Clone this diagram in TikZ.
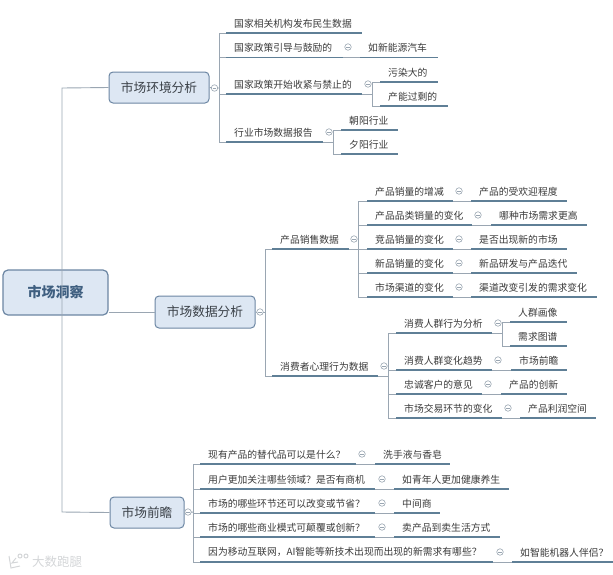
\documentclass[tikz,border=0pt]{standalone}
\usepackage{fontspec}
\setmainfont{Noto Sans CJK SC}
\definecolor{ulc}{HTML}{5F7F96}
\definecolor{conc}{HTML}{9AA6B2}
\definecolor{boxf}{HTML}{DDE7F3}
\definecolor{boxd}{HTML}{6C86A3}
\definecolor{txtc}{HTML}{3A3A3A}
\definecolor{rootc}{HTML}{3F5F80}
\definecolor{wmc}{HTML}{D4D6D8}
\tikzset{
  tx/.style={font=\fontsize{9.8}{11}\selectfont,text=txtc,inner sep=0pt,anchor=west},
  uline/.style={draw=ulc,line width=1.5pt},
  conn/.style={draw=conc,line width=0.9pt},
  mainbox/.style={draw=boxd,line width=1pt,fill=boxf,rounded corners=4pt,inner sep=0pt,text=txtc!80!rootc,font=\fontsize{12.7}{14}\selectfont},
  rootbox/.style={draw=boxd,line width=1.2pt,fill=boxf,rounded corners=5pt,inner sep=0pt,text=rootc,font=\bfseries\fontsize{14}{16}\selectfont},
  togg/.style={circle,draw=conc,line width=0.6pt,fill=white,minimum size=6.5pt,inner sep=0pt,
    path picture={\draw[conc,line width=0.6pt] ([xshift=1.4pt]path picture bounding box.west)--([xshift=-1.4pt]path picture bounding box.east);}},
  markt/.style={font=\fontsize{12.5}{13}\selectfont,text=wmc,inner sep=0pt,anchor=west},
  markl/.style={draw=wmc,line width=1pt}
}
% \tp{name}{x0}{x1}{yline}{text}
\newcommand{\tp}[5]{%
  \node[tx] (#1) at (#2+8,#4-9.7) {#5};
  \coordinate (#1L) at (#2,#4);
  \coordinate (#1R) at (#3,#4);
  \draw[uline] (#1L) -- (#1R);}
\newcommand{\tog}[3]{\node[togg] (#1) at (#2,#3) {};}
\begin{document}
\begin{tikzpicture}[x=1pt,y=-1pt]
\useasboundingbox (0,0) rectangle (613,574);
% boxes
\node[rootbox,minimum width=105pt,minimum height=45pt] (root) at (55.5,292.5) {市场洞察};
\node[mainbox,minimum width=100pt,minimum height=31pt] (A) at (159,87.5) {市场环境分析};
\node[mainbox,minimum width=100pt,minimum height=32pt] (B) at (205,312) {市场数据分析};
\node[mainbox,minimum width=74pt,minimum height=31pt] (C) at (147,512.5) {市场前瞻};
\coordinate (trunkT) at (62,88);
\coordinate (trunkB) at (62,512);
% root connectors
\draw[conn] (A.west) -- (trunkT) -- (trunkB) -- (C.west);
\draw[conn] (root.east |- B.west) -- (B.west);
% --- A branch
\tp{a1}{226}{362}{33}{国家相关机构发布民生数据}
\tp{a2}{226}{343}{57.5}{国家政策引导与鼓励的}
\tp{a2c}{360}{438}{57.5}{如新能源汽车}
\tp{a3}{226}{362}{94}{国家政策开始收紧与禁止的}
\tp{a3c1}{380}{438}{82}{污染大的}
\tp{a3c2}{380}{448}{106}{产能过剩的}
\tp{a4}{226}{323}{142}{行业市场数据报告}
\tp{a4c1}{341}{398}{130}{朝阳行业}
\tp{a4c2}{341}{398}{154}{夕阳行业}
\coordinate (aT) at (219,88);
\draw[conn] (a1L) -- (a1L -| aT) -- (a4L -| aT) -- (a4L);
\draw[conn] (A.east) -- (aT);
\draw[conn] (a2L) -- (a2L -| aT);
\draw[conn] (a3L) -- (a3L -| aT);
\draw[conn] (a2R) -- (a2cL);
\coordinate (a3T) at (372,94);
\draw[conn] (a3R) -- (a3T);
\draw[conn] (a3c1L) -- (a3c1L -| a3T) -- (a3c2L -| a3T) -- (a3c2L);
\coordinate (a4T) at (333,142);
\draw[conn] (a4R) -- (a4T);
\draw[conn] (a4c1L) -- (a4c1L -| a4T) -- (a4c2L -| a4T) -- (a4c2L);
\tog{ta}{214.5}{88}
\tog{ta2}{348}{47}
\tog{ta3}{368}{84}
\tog{ta4}{329}{132}
% --- B branch
\tp{b1}{272}{349}{249}{产品销售数据}
\tp{b2}{272}{378}{376}{消费者心理行为数据}
\coordinate (bT) at (265,312);
\draw[conn] (B.east) -- (bT);
\draw[conn] (b1L) -- (b1L -| bT) -- (b2L -| bT) -- (b2L);
\tog{tb}{260}{312}
\tog{tb1}{354}{239}
\tog{tb2}{384}{366}
% sales rows
\tp{s1}{367}{453}{201}{产品销量的增减}
\tp{s1c}{471}{567}{201}{产品的受欢迎程度}
\tp{s2}{367}{472}{225}{产品品类销量的变化}
\tp{s2c}{491}{587}{225}{哪种市场需求更高}
\tp{s3}{367}{453}{249}{竞品销量的变化}
\tp{s3c}{471}{567}{249}{是否出现新的市场}
\tp{s4}{367}{453}{273}{新品销量的变化}
\tp{s4c}{471}{577}{273}{新品研发与产品迭代}
\tp{s5}{367}{453}{297}{市场渠道的变化}
\tp{s5c}{471}{597}{297}{渠道改变引发的需求变化}
\coordinate (sT) at (358,249);
\draw[conn] (b1R) -- (s3L);
\draw[conn] (s1L) -- (s1L -| sT) -- (s5L -| sT) -- (s5L);
\draw[conn] (s2L) -- (s2L -| sT);
\draw[conn] (s4L) -- (s4L -| sT);
\foreach \n in {1,2,3,4,5}{\draw[conn] (s\n R) -- (s\n cL);}
\tog{ts1}{459}{191}
\tog{ts2}{478}{215}
\tog{ts3}{459}{239}
\tog{ts4}{459}{263}
\tog{ts5}{459}{287}
% consumer rows
\tp{c1}{396}{492}{333}{消费人群行为分析}
\tp{c1a}{510}{567}{322}{人群画像}
\tp{c1b}{510}{567}{346}{需求图谱}
\tp{c2}{396}{492}{370}{消费人群变化趋势}
\tp{c2c}{511}{567}{370}{市场前瞻}
\tp{c3}{396}{482}{394}{忠诚客户的意见}
\tp{c3c}{501}{567}{394}{产品的创新}
\tp{c4}{396}{502}{418}{市场交易环节的变化}
\tp{c4c}{520}{596}{418}{产品利润空间}
\coordinate (cT) at (388,376);
\draw[conn] (b2R) -- (cT);
\draw[conn] (c1L) -- (c1L -| cT) -- (c4L -| cT) -- (c4L);
\draw[conn] (c2L) -- (c2L -| cT);
\draw[conn] (c3L) -- (c3L -| cT);
\coordinate (c1T) at (502,333);
\draw[conn] (c1R) -- (c1T);
\draw[conn] (c1aL) -- (c1aL -| c1T) -- (c1bL -| c1T) -- (c1bL);
\draw[conn] (c2R) -- (c2cL);
\draw[conn] (c3R) -- (c3cL);
\draw[conn] (c4R) -- (c4cL);
\tog{tc1}{498}{323}
\tog{tc2}{498}{360}
\tog{tc3}{488}{384}
\tog{tc4}{508}{408}
% --- C branch
\tp{f1}{200}{356}{464}{现有产品的替代品可以是什么？}
\tp{f1c}{375}{450}{464}{洗手液与香皂}
\tp{f2}{200}{375}{489}{用户更加关注哪些领域？是否有商机}
\tp{f2c}{394}{509}{489}{如青年人更加健康养生}
\tp{f3}{200}{375}{513}{市场的哪些环节还可以改变或节省？}
\tp{f3c}{394}{440}{513}{中间商}
\tp{f4}{200}{375}{537}{市场的哪些商业模式可颠覆或创新？}
\tp{f4c}{394}{500}{537}{卖产品到卖生活方式}
\tp{f5}{200}{493}{562}{因为移动互联网，AI智能等新技术出现而出现的新需求有哪些？}
\tp{f5c}{512}{613}{562}{如智能机器人伴侣？}
\coordinate (fT) at (193.5,512);
\draw[conn] (C.east) -- (fT);
\draw[conn] (f1L) -- (f1L -| fT) -- (f5L -| fT) -- (f5L);
\foreach \n in {2,3,4}{\draw[conn] (f\n L) -- (f\n L -| fT);}
\foreach \n in {1,2,3,4,5}{\draw[conn] (f\n R) -- (f\n cL);}
\tog{tc}{188}{512}
\tog{tf1}{362}{454}
\tog{tf2}{382}{479}
\tog{tf3}{382}{503}
\tog{tf4}{382}{527}
\tog{tf5}{500}{552}
% watermark
\draw[markl] (9,556) -- (11,568) -- (20,566);
\draw[markl] (16,558) -- (12,563) -- (18,562);
\draw[markl] (20,556) circle (2pt);
\draw[markl] (26,556) circle (2pt);
\node[markt] (wm) at (32,561.5) {大数跑腿};
\end{tikzpicture}
\end{document}
